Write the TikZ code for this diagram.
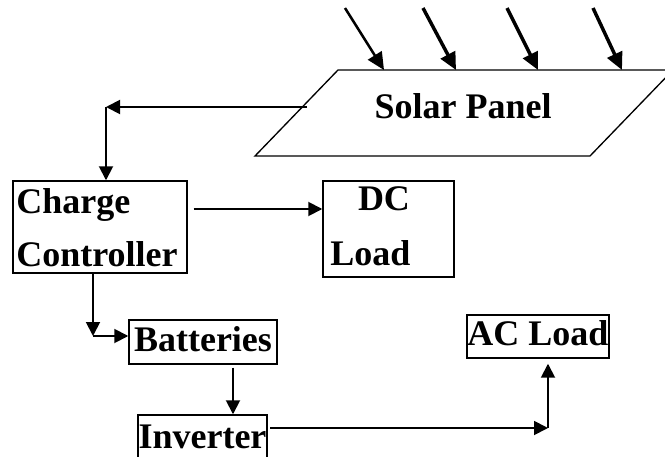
\documentclass[tikz,border=0pt]{standalone}
\usepackage{fontspec}
\setmainfont{Liberation Serif}
\usetikzlibrary{arrows.meta}
\begin{document}
\begin{tikzpicture}[x=0.75pt,y=-0.75pt,
  box/.style={draw,line width=1.1pt,inner sep=0pt,font=\fontsize{27}{30}\selectfont\bfseries},
  lbl/.style={inner sep=0pt,font=\fontsize{27}{30}\selectfont\bfseries},
  arr/.style={line width=1.4pt,-{Triangle[length=10.5pt,width=10.5pt]}},
  ray/.style={line width=2.6pt,-{Triangle[length=13pt,width=12pt]}}]
\useasboundingbox (0,0) rectangle (665,457);
\clip (0,0) rectangle (665,457);
% solar panel
\draw[line width=1pt] (255,156) -- (338,70) -- (673,70) -- (590,156) -- cycle;
\node[lbl, anchor=base] (panel) at (463,118) {Solar Panel};
% sun rays
\coordinate (r1s) at (345,8);  \coordinate (r1e) at (384,70);
\coordinate (r2s) at (423,8);  \coordinate (r2e) at (456,70);
\coordinate (r3s) at (507,8);  \coordinate (r3e) at (538,70);
\coordinate (r4s) at (593,8);  \coordinate (r4e) at (622,70);
\draw[ray,line width=1.9pt] (r1s) -- (r1e);
\draw[ray] (r2s) -- (r2e);
\draw[ray] (r3s) -- (r3e);
\draw[ray] (r4s) -- (r4e);
% boxes
\node[box, minimum width=130.5pt, minimum height=69pt] (cc) at (100,227) {};
\node[lbl, anchor=base west] (cc1) at (16,213) {Charge};
\node[lbl, anchor=base west] (cc2) at (16,266) {Controller};
\node[box, minimum width=98.25pt, minimum height=72pt] (dc) at (388.5,229) {};
\node[lbl, anchor=base] (dc1) at (384,210) {DC};
\node[lbl, anchor=base west] (dc2) at (330,265) {Load};
\node[box, minimum width=111pt, minimum height=33pt, text height=17pt, text depth=3.5pt] (bat) at (203,342) {Batteries};
\node[box, minimum width=106.5pt, minimum height=32.25pt, text height=17pt, text depth=4.25pt] (acl) at (538,336.5) {AC Load};
\node[box, minimum width=96.75pt, minimum height=37.5pt, text height=17pt, text depth=5pt] (inv) at (202.5,440) {Inverter};
% connectors
\coordinate (p0) at (307,107);
\coordinate (c1) at (106,107);
\draw[arr] (p0) -- (c1);
\draw[arr] (c1) -- (c1 |- cc.north);
\coordinate (c2) at ([shift={(6,-18)}]cc.east);
\draw[arr] (c2) -- (c2 -| dc.west);
\coordinate (c3) at ([xshift=-5.25pt]cc.south);
\coordinate (c4) at (93,336);
\draw[arr] (c3) -- (c4);
\draw[arr] (c4) -- (c4 -| bat.west);
\coordinate (c5) at ([xshift=22.5pt,yshift=-2.25pt]bat.south);
\draw[arr] (c5) -- (c5 |- inv.north);
\coordinate (c6) at (270,428);
\coordinate (c7) at (548,428);
\draw[arr] (c6) -- (c7);
\draw[arr] (c7) -- ([yshift=-3.75pt]c7 |- acl.south);
\end{tikzpicture}
\end{document}
